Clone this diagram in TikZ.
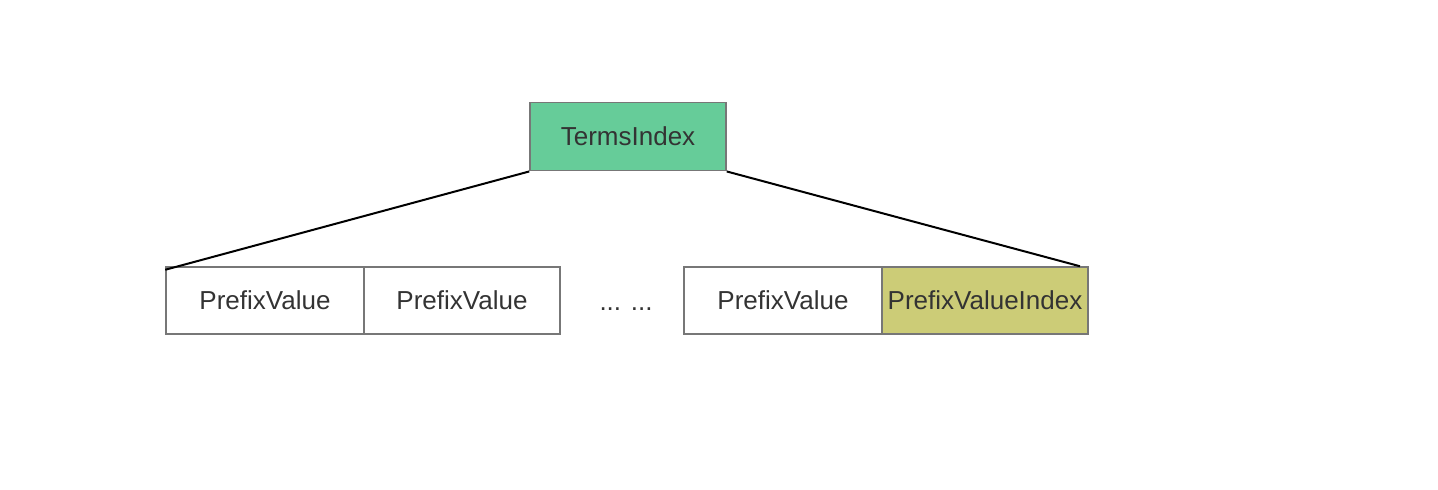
\documentclass[tikz,border=0pt]{standalone}
\usepackage{fontspec}
\setmainfont{Liberation Sans}
\usepackage{tikz}
\usetikzlibrary{positioning}
\definecolor{termsgreen}{HTML}{66CC99}
\definecolor{indexolive}{HTML}{CCCC77}
\definecolor{boxgray}{HTML}{777777}
\definecolor{textgray}{HTML}{333333}

\begin{document}
\begin{tikzpicture} [x=0.02cm, y=0.02cm, node distance=-0.03cm]
    \tikzstyle{every node}=[font=\fontsize{14.8}{17}\selectfont, text=textgray]
    \tikzset{
      cell/.style={draw=boxgray, line width=0.03cm, rectangle, inner sep=0pt, minimum height=67*0.02cm},
      terms/.style={cell, fill=termsgreen, minimum width=196*0.02cm, minimum height=68*0.02cm}
    }
    \useasboundingbox (0,0) rectangle (1438,-490);

    \node[terms]                                at (628,-136.7) (termsidx) {TermsIndex};
    \node[cell, minimum width=198*0.02cm]       at (265,-300.5) (pv1) {PrefixValue};
    \node[cell, minimum width=196*0.02cm, right = of pv1] (pv2) {PrefixValue};
    \node[anchor=base, inner sep=0pt]           at (626,-310.5) (dots) {... ...};
    \node[cell, minimum width=198*0.02cm]       at (783,-300.5) (pv3) {PrefixValue};
    \node[cell, fill=indexolive, minimum width=206*0.02cm, right = of pv3] (pvi) {PrefixValueIndex};

    \draw[line width=0.04cm] (termsidx.south west) to ([yshift=-2]pv1.north west);
    \draw[line width=0.04cm] (termsidx.south east) to ([xshift=-5]pvi.north east);
\end{tikzpicture}
\end{document}
